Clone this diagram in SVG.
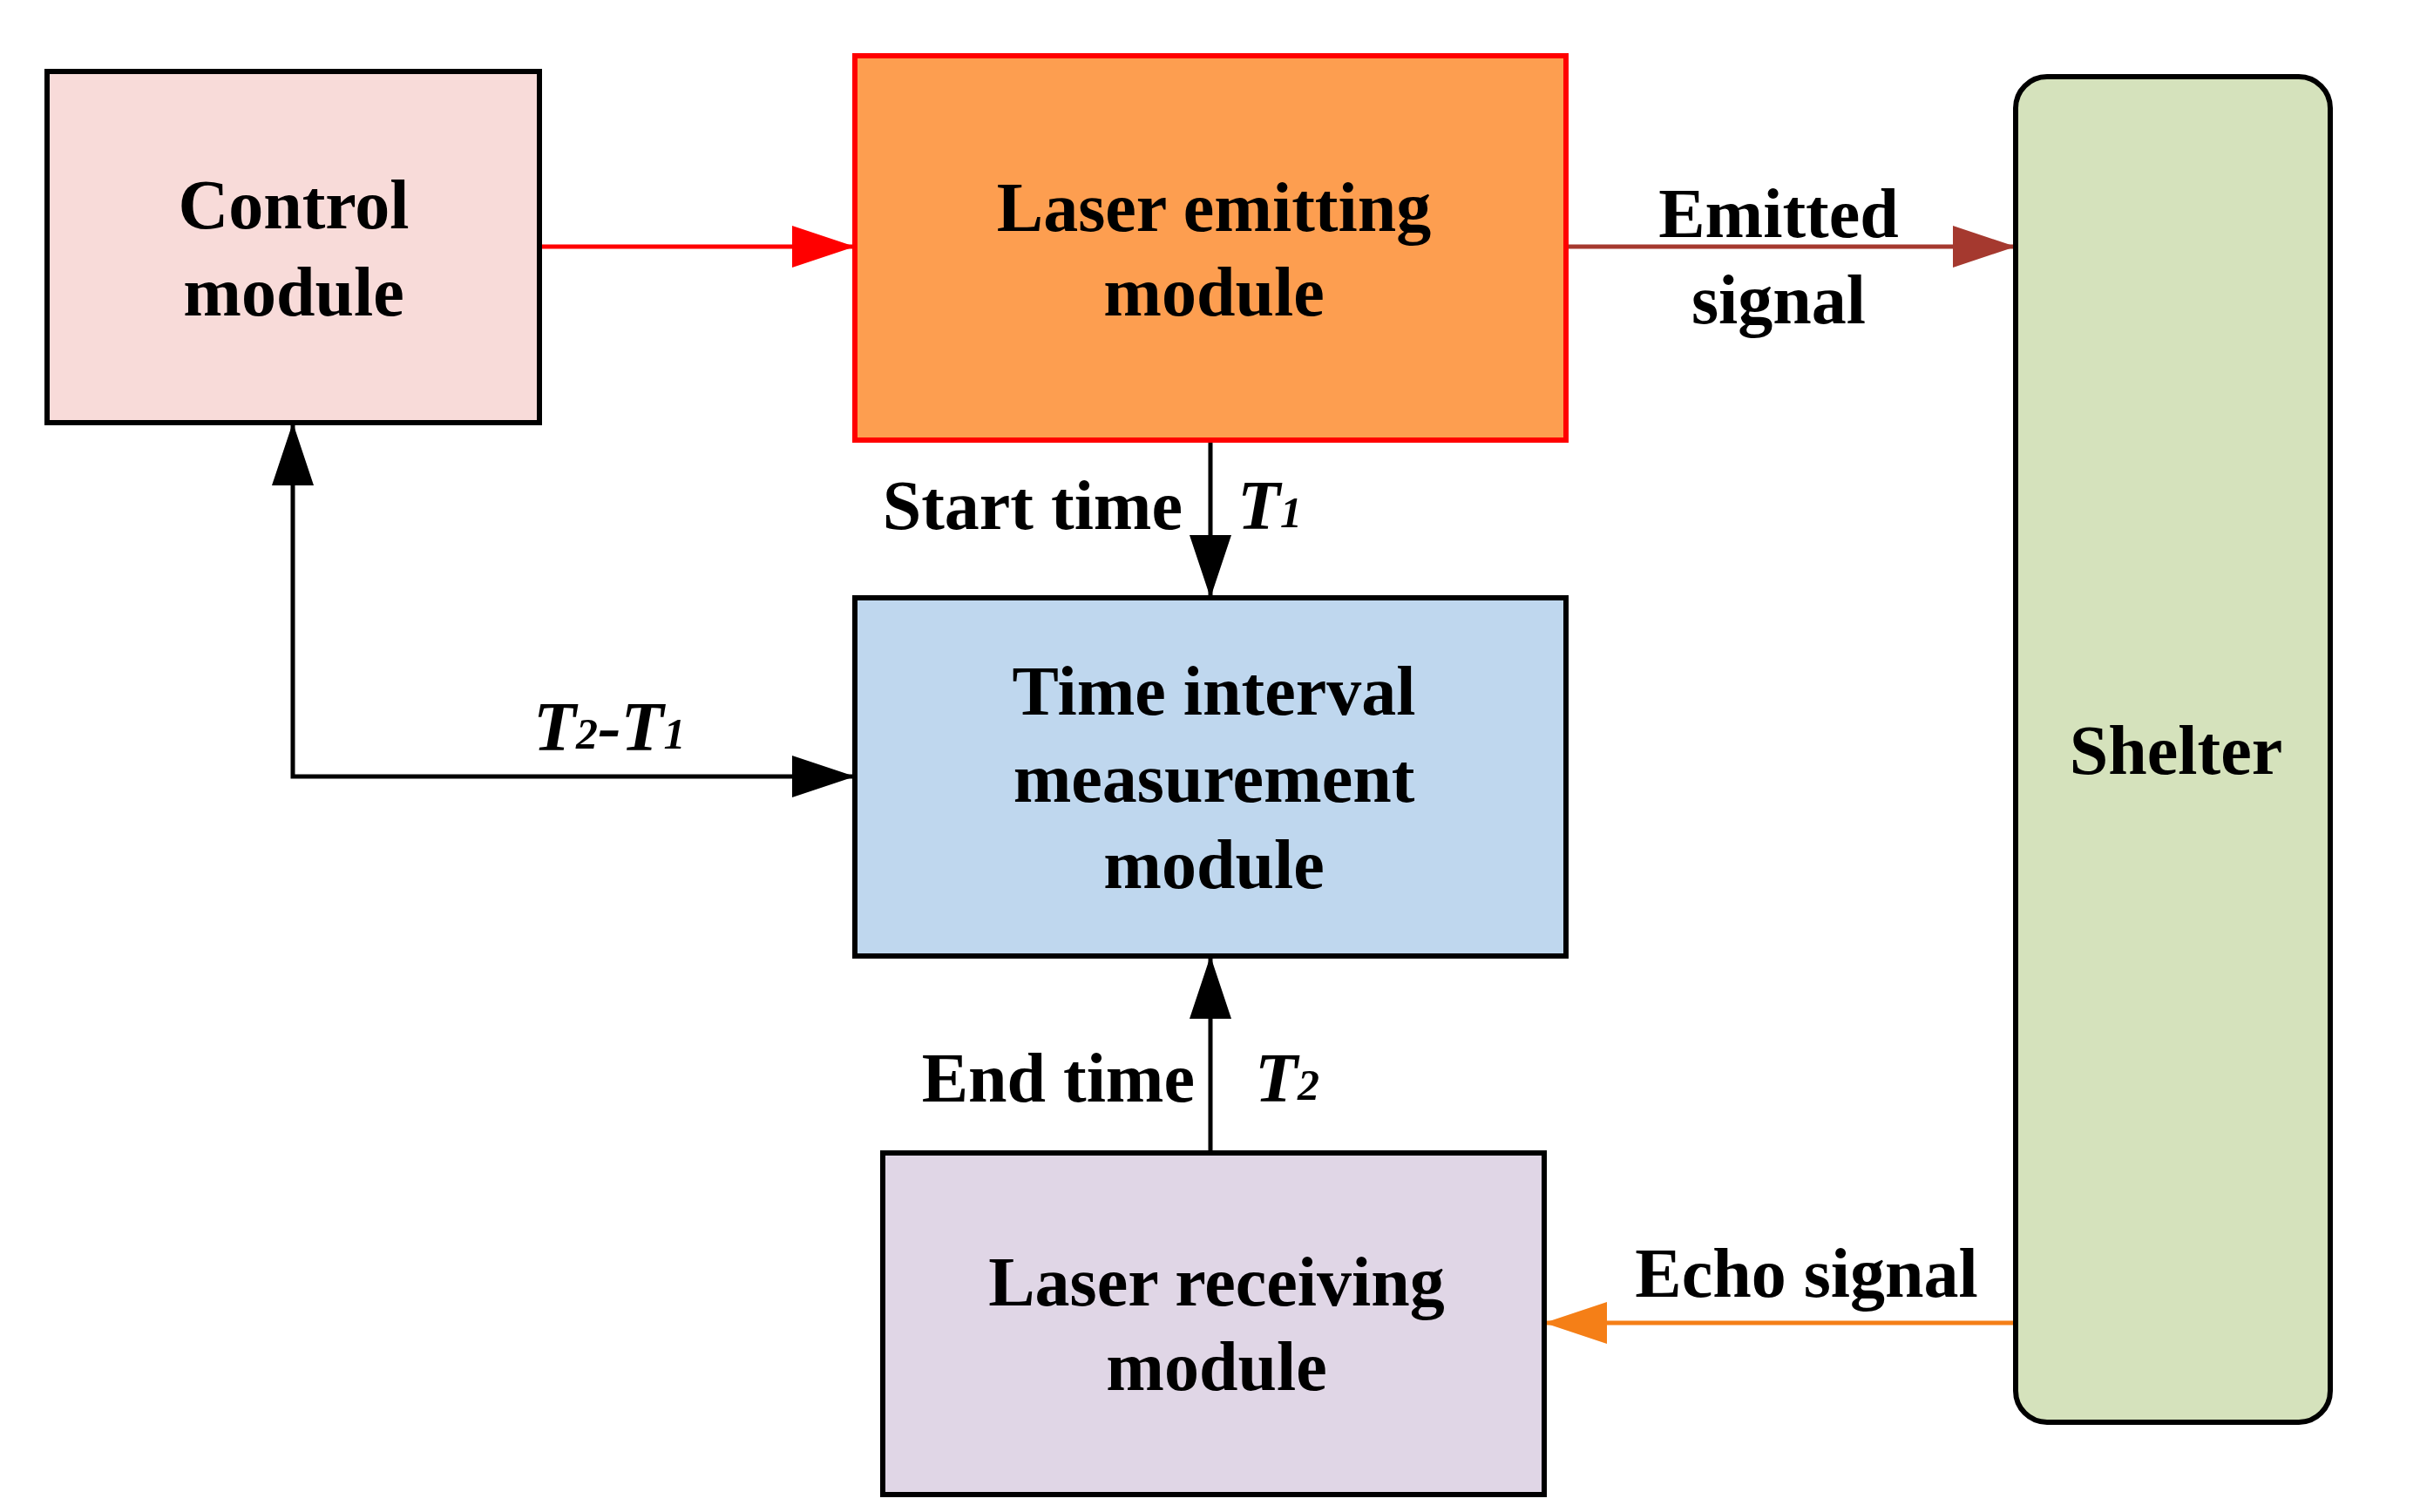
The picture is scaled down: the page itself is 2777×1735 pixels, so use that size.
<svg xmlns="http://www.w3.org/2000/svg" width="2777" height="1735" viewBox="0 0 2777 1735">
<defs>
<style>
text{font-family:"Liberation Serif","DejaVu Serif",serif;font-weight:bold;font-size:80px;fill:#000;text-anchor:middle;dominant-baseline:central}
.it{font-style:italic}
.box{stroke-width:6}
.c{fill:none;stroke-width:5}
</style>
<marker id="ak" markerWidth="12" markerHeight="10" refX="12" refY="5" orient="auto" markerUnits="userSpaceOnUse" viewBox="0 0 12 10"><path d="M0,0L12,5L0,10z" fill="#000"/></marker>
<marker id="ab" viewBox="0 0 72 48" refX="72" refY="24" markerWidth="72" markerHeight="48" orient="auto-start-reverse" markerUnits="userSpaceOnUse"><path d="M0,0L72,24L0,48z" fill="#000"/></marker>
<marker id="ar" viewBox="0 0 72 48" refX="72" refY="24" markerWidth="72" markerHeight="48" orient="auto" markerUnits="userSpaceOnUse"><path d="M0,0L72,24L0,48z" fill="#f00"/></marker>
<marker id="abr" viewBox="0 0 72 48" refX="72" refY="24" markerWidth="72" markerHeight="48" orient="auto" markerUnits="userSpaceOnUse"><path d="M0,0L72,24L0,48z" fill="#a5392f"/></marker>
<marker id="ao" viewBox="0 0 72 48" refX="72" refY="24" markerWidth="72" markerHeight="48" orient="auto" markerUnits="userSpaceOnUse"><path d="M0,0L72,24L0,48z" fill="#f57f17"/></marker>
</defs>
<rect width="2777" height="1735" fill="#fff"/>
<g id="connectors">
<line class="c" x1="619" y1="283" x2="981" y2="283" stroke="#f00" marker-end="url(#ar)"/>
<line class="c" x1="1797" y1="283" x2="2313" y2="283" stroke="#a5392f" marker-end="url(#abr)"/>
<line class="c" x1="1389" y1="505" x2="1389" y2="686" stroke="#000" marker-end="url(#ab)"/>
<path class="c" d="M336,485 L336,891 L981,891" stroke="#000" marker-start="url(#ab)" marker-end="url(#ab)"/>
<line class="c" x1="1389" y1="1323" x2="1389" y2="1097" stroke="#000" marker-end="url(#ab)"/>
<line class="c" x1="2310" y1="1518" x2="1772" y2="1518" stroke="#f57f17" marker-end="url(#ao)"/>
<text x="2041" y="245">Emitted</text><text x="2041" y="344">signal</text>
<text x="1357" y="580" text-anchor="end" style="text-anchor:end">Start time</text>
<text x="1420" y="580" class="it" style="text-anchor:start">T<tspan font-size="50" dy="8">1</tspan></text>
<text x="612" y="834" class="it" style="text-anchor:start">T<tspan font-size="50" dy="8">2</tspan><tspan dy="-8">-T</tspan><tspan font-size="50" dy="8">1</tspan></text>
<text x="1371" y="1237" style="text-anchor:end">End time</text>
<text x="1440" y="1237" class="it" style="text-anchor:start">T<tspan font-size="50" dy="8">2</tspan></text>
<text x="2073" y="1461">Echo signal</text>
</g>
<g id="control"><rect class="box" x="54" y="82" width="565" height="403" fill="#f8dbd9" stroke="#000"/><text x="337" y="235">Control</text><text x="337" y="335">module</text></g>
<g id="laser-emitting"><rect class="box" x="981" y="64" width="816" height="441" fill="#fd9e50" stroke="#f00"/><text x="1393" y="238">Laser emitting</text><text x="1393" y="335">module</text></g>
<g id="shelter"><rect class="box" x="2313" y="88" width="361" height="1544" rx="36" fill="#d5e2bc" stroke="#000"/><text x="2497" y="861">Shelter</text></g>
<g id="time-interval"><rect class="box" x="981" y="686" width="816" height="411" fill="#bfd7ee" stroke="#000"/><text x="1393" y="793">Time interval</text><text x="1393" y="893">measurement</text><text x="1393" y="992">module</text></g>
<g id="laser-receiving"><rect class="box" x="1013" y="1323" width="759" height="392" fill="#e0d6e6" stroke="#000"/><text x="1396" y="1471">Laser receiving</text><text x="1396" y="1568">module</text></g>
</svg>
